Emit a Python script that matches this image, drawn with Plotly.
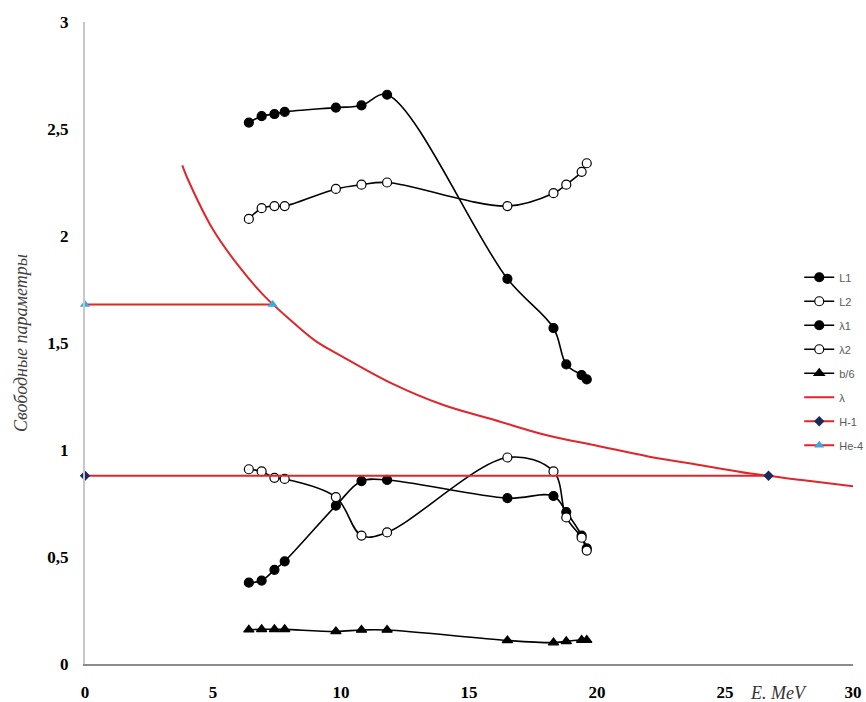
import plotly.graph_objects as go

# Energies, MeV
energy = [6.4, 6.9, 7.4, 7.8, 9.8, 10.8, 11.8, 16.5, 18.3, 18.8, 19.4, 19.6]

# Free parameters
L1 = [2.53, 2.56, 2.57, 2.58, 2.60, 2.61, 2.66, 1.80, 1.57, 1.40, 1.35, 1.33]
L2 = [2.08, 2.13, 2.14, 2.14, 2.22, 2.24, 2.25, 2.14, 2.20, 2.24, 2.30, 2.34]
lam1 = [0.38, 0.39, 0.44, 0.48, 0.74, 0.855, 0.86, 0.775, 0.785, 0.71, 0.60, 0.54]
lam2 = [0.91, 0.90, 0.87, 0.865, 0.78, 0.60, 0.615, 0.965, 0.90, 0.685, 0.59, 0.53]
b6 = [0.16, 0.162, 0.162, 0.162, 0.152, 0.159, 0.159, 0.11, 0.10, 0.106, 0.112, 0.112]

# λ curve
lam_E = [3.8, 4, 5, 6, 7, 8, 9, 10, 12, 14, 16, 18, 20, 22, 24, 26, 28, 30]
lam_v = [2.33, 2.27, 2.03, 1.86, 1.72, 1.61, 1.51, 1.44, 1.31, 1.21, 1.14,
         1.07, 1.02, 0.97, 0.93, 0.89, 0.86, 0.83]

# Reference levels
h1_E = [0, 26.7]
h1_v = [0.88, 0.88]
he4_E = [0, 7.33]
he4_v = [1.68, 1.68]

x_ticks = [0, 5, 10, 15, 20, 25, 30]
y_ticks = [0, 0.5, 1, 1.5, 2, 2.5, 3]

RED = "#E0262A"
BLACK = "#000000"

fig = go.Figure()


def black_series(name, y, symbol, fill):
    fig.add_trace(go.Scatter(
        x=energy, y=y, name=name, legendgroup=name,
        mode="lines+markers",
        line=dict(color=BLACK, width=1.6, shape="spline", smoothing=1.0),
        marker=dict(symbol=symbol, size=9, color=fill,
                    line=dict(color=BLACK, width=1.2)),
    ))


black_series("L1", L1, "circle", BLACK)
black_series("L2", L2, "circle", "white")
black_series("λ1", lam1, "circle", BLACK)
black_series("λ2", lam2, "circle", "white")
black_series("b/6", b6, "triangle-up", BLACK)

fig.add_trace(go.Scatter(
    x=lam_E, y=lam_v, name="λ", legendgroup="λ", mode="lines",
    line=dict(color=RED, width=2, shape="spline", smoothing=1.0),
))
fig.add_trace(go.Scatter(
    x=h1_E, y=h1_v, name="H-1", legendgroup="H-1", mode="lines+markers",
    line=dict(color=RED, width=2), cliponaxis=False,
    marker=dict(symbol="diamond", size=8, color="#1B2A5C"),
))
fig.add_trace(go.Scatter(
    x=he4_E, y=he4_v, name="He-4", legendgroup="He-4", mode="lines+markers",
    line=dict(color=RED, width=2), cliponaxis=False,
    marker=dict(symbol="triangle-up", size=9, color="#3BA9DC"),
))

fig.add_annotation(
    text="<i>E. MeV</i>", x=27.1, y=-0.045, xref="x", yref="paper",
    showarrow=False, yanchor="middle",
    font=dict(family="Liberation Serif", size=18, color="#333333"),
)

fig.update_layout(
    width=866, height=702,
    margin=dict(l=85, r=13, t=22, b=38, autoexpand=False),
    paper_bgcolor="white", plot_bgcolor="white",
    separators=", ",
    showlegend=True,
    legend=dict(
        x=0.93, y=0.625, xanchor="left", yanchor="top",
        bgcolor="rgba(0,0,0,0)", tracegroupgap=5,
        font=dict(family="Liberation Sans", size=11, color="#595959"),
    ),
    xaxis=dict(
        range=[0, 30], tickvals=x_ticks, showgrid=False, zeroline=False,
        showline=True, linecolor="#8C8C8C", linewidth=1.5,
        ticks="", ticklabelstandoff=12, automargin=False,
        tickfont=dict(family="Liberation Serif", size=17, color="black",
                      weight="bold"),
    ),
    yaxis=dict(
        range=[0, 3], tickvals=y_ticks, showgrid=False, zeroline=False,
        showline=True, linecolor="#C8C8C8", linewidth=2,
        ticks="", ticklabelstandoff=11, automargin=False,
        tickfont=dict(family="Liberation Serif", size=17, color="black",
                      weight="bold"),
        title=dict(text="<i>Свободные параметры</i>", standoff=15,
                   font=dict(family="Liberation Serif", size=18,
                             color="#404040")),
    ),
)

fig.write_html("out.html")
